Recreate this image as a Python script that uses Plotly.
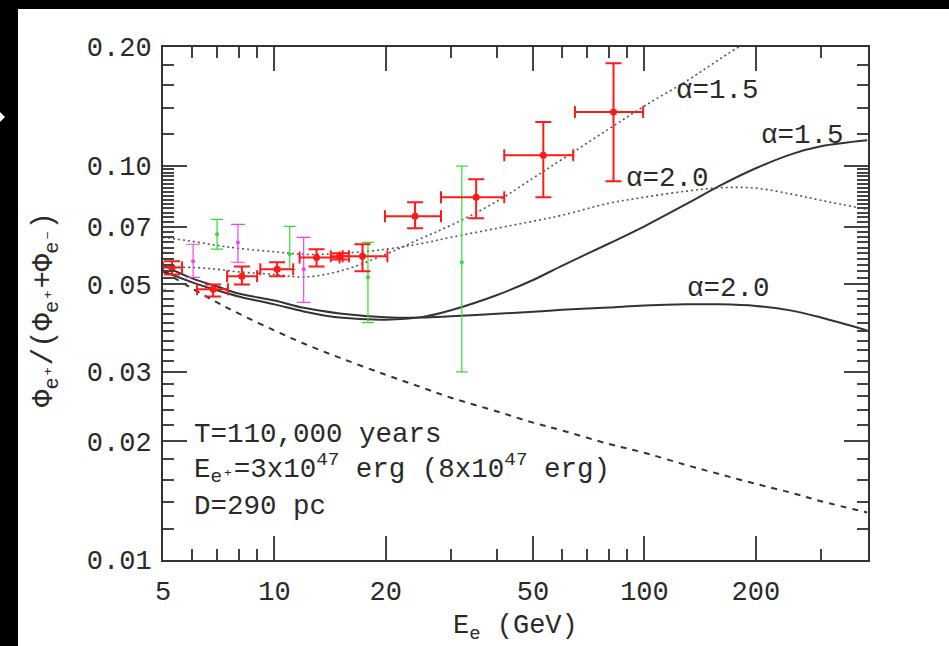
import plotly.graph_objects as go

# ---------------- data ----------------
E_model = [5, 6, 7, 8, 10, 12, 15, 20, 25, 30, 40, 50, 60, 80, 100, 130, 160, 200, 250, 300, 400]
solid_a20 = [0.0559, 0.0518, 0.0494, 0.0474, 0.0455, 0.0436, 0.0422, 0.0413, 0.0412, 0.0415, 0.0421,
             0.0426, 0.0431, 0.0437, 0.0442, 0.0445, 0.0445, 0.0441, 0.0429, 0.0412, 0.0382]
solid_a15 = [0.0540, 0.0506, 0.0483, 0.0466, 0.0445, 0.0427, 0.0412, 0.0407, 0.0413, 0.0430, 0.0470,
             0.0513, 0.0558, 0.0634, 0.0702, 0.0800, 0.0890, 0.0985, 0.1070, 0.1120, 0.1160]
dotted_a20 = [0.0658, 0.0643, 0.0628, 0.0617, 0.0605, 0.0596, 0.0599, 0.0614, 0.0635, 0.0658, 0.0694,
              0.0723, 0.0749, 0.0803, 0.0832, 0.0862, 0.0879, 0.0877, 0.0847, 0.0817, 0.0775]
E_dot15 = [5, 6, 7, 8, 10, 12, 15, 20, 25, 30, 40, 50, 60, 80, 100, 130, 160, 200]
dotted_a15 = [0.0552, 0.0552, 0.0546, 0.0538, 0.0530, 0.0522, 0.0540, 0.0596, 0.0655, 0.0706, 0.0813,
              0.0930, 0.1039, 0.1238, 0.1417, 0.1640, 0.1865, 0.2133]
dashed_sec = [0.0540, 0.0488, 0.0450, 0.0422, 0.0382, 0.0354, 0.0326, 0.0295, 0.0274, 0.0258, 0.0238,
              0.0223, 0.0213, 0.0197, 0.0187, 0.0174, 0.0165, 0.0156, 0.0148, 0.0141, 0.0132]

red_E = [5.29, 6.83, 8.17, 10.17, 13.0, 15.0, 17.3, 24.0, 35.1, 53.3, 82.5]
red_y = [0.0552, 0.0486, 0.0524, 0.0546, 0.0585, 0.0589, 0.0589, 0.0744, 0.0832, 0.1063, 0.1368]
red_y_hi = [0.0572, 0.0500, 0.0555, 0.0569, 0.0614, 0.0600, 0.0632, 0.0808, 0.0924, 0.129, 0.182]
red_y_lo = [0.0530, 0.0466, 0.0500, 0.0524, 0.0555, 0.0578, 0.0540, 0.0694, 0.0736, 0.0832, 0.0913]
red_E_lo = [5.0, 6.18, 7.45, 9.16, 11.7, 14.2, 15.3, 19.9, 28.2, 41.8, 64.9]
red_E_hi = [5.63, 7.49, 8.98, 11.24, 15.0, 15.9, 20.2, 28.2, 41.8, 64.2, 99.2]

green_E = [4.91, 7.0, 11.0, 17.9, 32.1]
green_y = [0.0540, 0.0670, 0.0596, 0.0521, 0.0569]
green_hi = [0.0603, 0.0731, 0.0702, 0.0639, 0.0997]
green_lo = [0.0486, 0.0614, 0.0546, 0.0400, 0.0300]

mag_E = [6.03, 7.97, 12.0]
mag_y = [0.0572, 0.0639, 0.0546]
mag_hi = [0.0632, 0.0710, 0.0658]
mag_lo = [0.0521, 0.0569, 0.0450]

x_ticks = [5, 10, 20, 50, 100, 200]
x_ticklabels = ["5", "10", "20", "50", "100", "200"]
x_minor = [6, 7, 8, 9, 30, 40, 60, 70, 80, 90, 300, 400]
y_ticks = [0.01, 0.02, 0.03, 0.05, 0.07, 0.10, 0.20]
y_ticklabels = ["0.01", "0.02", "0.03", "0.05", "0.07", "0.10", "0.20"]
y_minor = ([0.012, 0.014, 0.016, 0.018] +
           [round(0.020 + 0.002 * i, 3) for i in range(1, 40)] +
           [0.12, 0.14, 0.16, 0.18])
y_minor = [v for v in y_minor if v not in y_ticks]

# ---------------- figure ----------------
LINE = "#333333"
TXT = "#2a2a2a"
MONO = "Liberation Mono, Courier New, monospace"

fig = go.Figure()

fig.add_trace(go.Scatter(x=E_model, y=dashed_sec, mode="lines", line=dict(color=LINE, width=2, dash="6px,6px"),
                         line_shape="spline", showlegend=False))
fig.add_trace(go.Scatter(x=E_model, y=solid_a20, mode="lines", line=dict(color=LINE, width=2),
                         line_shape="spline", showlegend=False))
fig.add_trace(go.Scatter(x=E_model, y=solid_a15, mode="lines", line=dict(color=LINE, width=2),
                         line_shape="spline", showlegend=False))
fig.add_trace(go.Scatter(x=E_model, y=dotted_a20, mode="lines", line=dict(color="#555555", width=1.6, dash="2px,3px"),
                         line_shape="spline", showlegend=False))
fig.add_trace(go.Scatter(x=E_dot15, y=dotted_a15, mode="lines", line=dict(color="#555555", width=1.6, dash="2px,3px"),
                         line_shape="spline", showlegend=False))

fig.add_trace(go.Scatter(
    x=green_E, y=green_y, mode="markers", marker=dict(color="#33dd33", size=4),
    error_y=dict(type="data", symmetric=False,
                 array=[h - v for h, v in zip(green_hi, green_y)],
                 arrayminus=[v - l for l, v in zip(green_lo, green_y)],
                 color="#33dd33", thickness=1.2, width=6),
    showlegend=False))
fig.add_trace(go.Scatter(
    x=mag_E, y=mag_y, mode="markers", marker=dict(color="#ee44ee", size=4),
    error_y=dict(type="data", symmetric=False,
                 array=[h - v for h, v in zip(mag_hi, mag_y)],
                 arrayminus=[v - l for l, v in zip(mag_lo, mag_y)],
                 color="#ee44ee", thickness=1.2, width=7),
    showlegend=False))
fig.add_trace(go.Scatter(
    x=red_E, y=red_y, mode="markers", marker=dict(color="#ff1a1a", size=7),
    error_y=dict(type="data", symmetric=False,
                 array=[h - v for h, v in zip(red_y_hi, red_y)],
                 arrayminus=[v - l for l, v in zip(red_y_lo, red_y)],
                 color="#ff1a1a", thickness=2, width=8),
    error_x=dict(type="data", symmetric=False,
                 array=[h - v for h, v in zip(red_E_hi, red_E)],
                 arrayminus=[v - l for l, v in zip(red_E_lo, red_E)],
                 color="#ff1a1a", thickness=2, width=6),
    showlegend=False))

L, R, T, B = 163, 868, 47, 560
W, H = 949, 646
pw, ph = R - L, B - T


def px(xp):
    return (xp - L) / pw


def py(yp):
    return (B - yp) / ph


axis_common = dict(showline=True, linecolor=LINE, linewidth=2, mirror="allticks",
                   ticks="inside", tickcolor="#444444", tickwidth=2, ticklen=24,
                   showgrid=False, zeroline=False,
                   tickfont=dict(family=MONO, size=27, color=TXT))

fig.update_xaxes(type="log", range=[0.69897, 2.6042], tickmode="array", tickvals=x_ticks,
                 ticktext=x_ticklabels, ticklabelstandoff=6,
                 minor=dict(tickmode="array", tickvals=x_minor, ticks="inside", ticklen=11,
                            tickcolor="#444444", tickwidth=1.5),
                 **axis_common)
fig.update_yaxes(type="log", range=[-2, -0.69897], tickmode="array", tickvals=y_ticks,
                 ticktext=y_ticklabels, ticklabelstandoff=4,
                 minor=dict(tickmode="array", tickvals=y_minor, ticks="inside", ticklen=11,
                            tickcolor="#444444", tickwidth=1.5),
                 **axis_common)

ann_font = dict(family=MONO, size=27.5, color=TXT)
annotations = [
    dict(x=px(717), y=py(90), text="α=1.5"),
    dict(x=px(802), y=py(135), text="α=1.5"),
    dict(x=px(667), y=py(178), text="α=2.0"),
    dict(x=px(728), y=py(288), text="α=2.0"),
]
for a in annotations:
    a.update(xref="paper", yref="paper", showarrow=False, font=ann_font, xanchor="center", yanchor="middle")

annotations += [
    dict(x=px(192), y=py(434), text="T=110,000 years", xanchor="left"),
    dict(x=px(192), y=py(468), text="E<sub>e⁺</sub>=3x10<sup>47</sup> erg (8x10<sup>47</sup> erg)", xanchor="left"),
    dict(x=px(192), y=py(506), text="D=290 pc", xanchor="left"),
]
for a in annotations[4:]:
    a.update(xref="paper", yref="paper", showarrow=False, font=ann_font, yanchor="middle")

annotations += [
    dict(x=px(515), y=py(628), xref="paper", yref="paper", showarrow=False,
         text="E<sub>e</sub> (GeV)", font=dict(family=MONO, size=27, color=TXT),
         xanchor="center", yanchor="middle"),
    dict(x=px(46), y=py(310), xref="paper", yref="paper", showarrow=False, textangle=-90,
         text="Φ<sub>e⁺</sub>/(Φ<sub>e⁺</sub>+Φ<sub>e⁻</sub>)",
         font=dict(family=MONO, size=29, color=TXT),
         xanchor="center", yanchor="middle"),
]

fig.update_layout(
    width=W, height=H,
    margin=dict(l=L, r=W - R, t=T, b=H - B, pad=0),
    paper_bgcolor="black", plot_bgcolor="white",
    shapes=[
        dict(type="rect", xref="paper", yref="paper", layer="below",
             x0=px(18), x1=px(960), y0=py(9), y1=py(660),
             fillcolor="white", line=dict(width=0)),
        dict(type="path", xref="paper", yref="paper", layer="above",
             path="M {:.4f} {:.4f} L {:.4f} {:.4f} L {:.4f} {:.4f} Z".format(
                 px(0), py(112), px(5), py(117), px(0), py(122)),
             fillcolor="white", line=dict(width=0)),
    ],
    annotations=annotations,
    showlegend=False,
)

fig.write_html("out.html", config={"displayModeBar": False},
               post_script="document.body.style.margin='0px';document.body.style.background='black';"
                           "document.body.style.overflow='hidden';")
